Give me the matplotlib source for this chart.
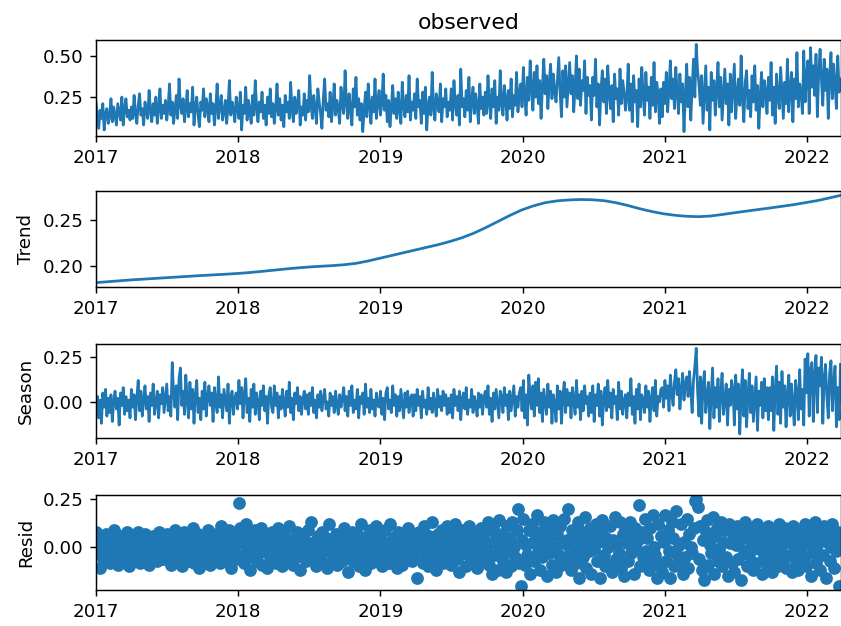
import pandas as pd
import matplotlib
matplotlib.use("Agg")
import matplotlib.pyplot as plt
import matplotlib.dates as mdates
from matplotlib.ticker import FormatStrFormatter

# observations, two per week, one row per quarter
observed = [
    0.22, 0.14, 0.06, 0.17, 0.12, 0.21, 0.05, 0.15, 0.18, 0.09, 0.13, 0.24, 0.10,
    0.19, 0.14, 0.08, 0.21, 0.16, 0.11, 0.25, 0.08, 0.18, 0.24, 0.13, 0.17, 0.11,
    0.19, 0.12, 0.26, 0.15, 0.09, 0.20, 0.27, 0.14, 0.18, 0.08, 0.22, 0.16, 0.12,
    0.29, 0.17, 0.10, 0.21, 0.14, 0.25, 0.09, 0.18, 0.30, 0.12, 0.20, 0.15, 0.23,
    0.11, 0.19, 0.33, 0.14, 0.22, 0.09, 0.17, 0.26, 0.12, 0.36, 0.20, 0.15, 0.24,
    0.10, 0.18, 0.29, 0.13, 0.21, 0.16, 0.31, 0.08, 0.19, 0.25, 0.14, 0.07, 0.22,
    0.17, 0.30, 0.13, 0.24, 0.19, 0.10, 0.27, 0.15, 0.21, 0.08, 0.18, 0.33, 0.12,
    0.20, 0.26, 0.11, 0.16, 0.23, 0.09, 0.19, 0.35, 0.14, 0.22, 0.17, 0.10, 0.25,
    0.18, 0.12, 0.28, 0.05, 0.20, 0.15, 0.31, 0.11, 0.23, 0.17, 0.09, 0.26, 0.14,
    0.35, 0.19, 0.10, 0.22, 0.16, 0.28, 0.12, 0.20, 0.08, 0.25, 0.15, 0.30, 0.13,
    0.21, 0.09, 0.18, 0.33, 0.14, 0.24, 0.11, 0.20, 0.07, 0.26, 0.16, 0.22, 0.12,
    0.34, 0.18, 0.10, 0.25, 0.15, 0.21, 0.29, 0.08, 0.19, 0.14, 0.27, 0.11, 0.23,
    0.16, 0.38, 0.20, 0.12, 0.26, 0.18, 0.09, 0.30, 0.22, 0.15, 0.06, 0.24, 0.36,
    0.17, 0.21, 0.13, 0.28, 0.10, 0.19, 0.33, 0.14, 0.23, 0.18, 0.09, 0.31, 0.20,
    0.15, 0.41, 0.22, 0.12, 0.27, 0.18, 0.08, 0.30, 0.19, 0.37, 0.14, 0.24, 0.11,
    0.21, 0.04, 0.17, 0.28, 0.13, 0.33, 0.20, 0.09, 0.25, 0.16, 0.36, 0.12, 0.22,
    0.29, 0.14, 0.21, 0.39, 0.17, 0.26, 0.10, 0.23, 0.07, 0.19, 0.32, 0.15, 0.24,
    0.12, 0.28, 0.18, 0.09, 0.34, 0.20, 0.13, 0.26, 0.16, 0.38, 0.11, 0.22, 0.17,
    0.27, 0.12, 0.36, 0.19, 0.23, 0.09, 0.28, 0.15, 0.31, 0.05, 0.20, 0.25, 0.14,
    0.40, 0.18, 0.11, 0.27, 0.21, 0.16, 0.33, 0.10, 0.24, 0.19, 0.30, 0.13, 0.22,
    0.17, 0.30, 0.11, 0.35, 0.21, 0.14, 0.26, 0.08, 0.42, 0.19, 0.24, 0.13, 0.29,
    0.17, 0.37, 0.10, 0.22, 0.31, 0.15, 0.27, 0.20, 0.09, 0.33, 0.18, 0.25, 0.14,
    0.28, 0.15, 0.38, 0.22, 0.12, 0.30, 0.19, 0.35, 0.09, 0.25, 0.17, 0.41, 0.21,
    0.14, 0.32, 0.24, 0.11, 0.29, 0.18, 0.36, 0.13, 0.26, 0.20, 0.40, 0.16, 0.27,
    0.33, 0.19, 0.43, 0.26, 0.14, 0.37, 0.23, 0.47, 0.30, 0.17, 0.40, 0.25, 0.44,
    0.21, 0.35, 0.12, 0.31, 0.48, 0.27, 0.38, 0.18, 0.34, 0.45, 0.24, 0.39, 0.29,
    0.22, 0.36, 0.49, 0.28, 0.13, 0.41, 0.25, 0.44, 0.19, 0.33, 0.46, 0.27, 0.38,
    0.16, 0.31, 0.50, 0.24, 0.42, 0.20, 0.35, 0.29, 0.47, 0.15, 0.37, 0.26, 0.32,
    0.11, 0.37, 0.26, 0.48, 0.19, 0.33, 0.08, 0.29, 0.41, 0.22, 0.36, 0.15, 0.44,
    0.27, 0.18, 0.32, 0.10, 0.39, 0.24, 0.30, 0.14, 0.42, 0.21, 0.35, 0.28, 0.17,
    0.24, 0.45, 0.17, 0.33, 0.10, 0.38, 0.22, 0.29, 0.07, 0.36, 0.19, 0.43, 0.26,
    0.14, 0.40, 0.23, 0.31, 0.12, 0.37, 0.20, 0.46, 0.16, 0.34, 0.27, 0.09, 0.30,
    0.13, 0.34, 0.21, 0.40, 0.16, 0.30, 0.47, 0.24, 0.36, 0.18, 0.43, 0.28, 0.15,
    0.39, 0.22, 0.33, 0.04, 0.26, 0.45, 0.19, 0.37, 0.11, 0.31, 0.48, 0.25, 0.57,
    0.41, 0.33, 0.20, 0.38, 0.09, 0.27, 0.44, 0.17, 0.31, 0.05, 0.40, 0.23, 0.35,
    0.14, 0.29, 0.46, 0.19, 0.37, 0.11, 0.26, 0.42, 0.21, 0.33, 0.08, 0.39, 0.16,
    0.30, 0.45, 0.12, 0.27, 0.36, 0.20, 0.50, 0.24, 0.10, 0.34, 0.41, 0.18, 0.29,
    0.13, 0.38, 0.22, 0.44, 0.17, 0.32, 0.06, 0.26, 0.40, 0.19, 0.35, 0.28, 0.15,
    0.37, 0.23, 0.46, 0.14, 0.31, 0.09, 0.39, 0.25, 0.18, 0.43, 0.27, 0.12, 0.34,
    0.21, 0.48, 0.16, 0.30, 0.40, 0.10, 0.36, 0.24, 0.52, 0.19, 0.33, 0.28, 0.15,
    0.53, 0.22, 0.38, 0.47, 0.15, 0.55, 0.31, 0.44, 0.26, 0.51, 0.13, 0.40, 0.54, 0.35,
    0.20, 0.48, 0.29, 0.42, 0.12, 0.37, 0.52, 0.24, 0.45, 0.33, 0.18, 0.50, 0.28, 0.36,
]

# trend, sampled roughly monthly over the same span
trend = [
    0.1820, 0.1830, 0.1840, 0.1850, 0.1858, 0.1866, 0.1874, 0.1882,
    0.1890, 0.1898, 0.1905, 0.1912, 0.1920, 0.1930, 0.1942, 0.1955,
    0.1968, 0.1980, 0.1990, 0.1998, 0.2005, 0.2015, 0.2030, 0.2055,
    0.2085, 0.2115, 0.2145, 0.2175, 0.2205, 0.2235, 0.2270, 0.2310,
    0.2360, 0.2420, 0.2485, 0.2550, 0.2610, 0.2655, 0.2690, 0.2710,
    0.2720, 0.2725, 0.2722, 0.2712, 0.2690, 0.2660, 0.2625, 0.2595,
    0.2570, 0.2553, 0.2542, 0.2538, 0.2545, 0.2562, 0.2580, 0.2598,
    0.2615, 0.2632, 0.2650, 0.2668, 0.2690, 0.2712, 0.2740, 0.2770,
]

# seasonal component, two per week
season = [
    -0.05, 0.03, -0.09, 0.01, -0.12, 0.05, -0.03, 0.07, -0.08, 0.02, -0.06, 0.04, -0.11,
    0.00, 0.06, -0.04, 0.02, -0.13, 0.05, -0.02, 0.08, -0.07, 0.03, -0.05, 0.01, -0.09,
    0.07, -0.03, 0.04, -0.10, 0.02, 0.12, -0.05, 0.06, -0.08, 0.01, 0.09, -0.04, 0.03,
    -0.11, 0.05, -0.02, 0.10, -0.07, 0.00, 0.06, -0.09, 0.04, -0.01, 0.08, -0.06, 0.02,
    0.10, -0.05, 0.03, -0.08, 0.22, 0.05, -0.03, 0.09, -0.10, 0.13, 0.19, -0.02, 0.06,
    -0.07, 0.15, 0.01, -0.09, 0.11, -0.04, 0.07, -0.12, 0.04, 0.12, -0.06, 0.02, -0.10,
    0.06, -0.04, 0.11, -0.08, 0.03, 0.09, -0.02, 0.05, -0.11, 0.08, 0.00, -0.06, 0.14,
    -0.03, 0.04, -0.09, 0.07, 0.01, -0.05, 0.10, -0.12, 0.03, 0.06, -0.07, 0.02, 0.05,
    -0.04, 0.12, -0.01, 0.08, -0.09, 0.04, 0.13, -0.06, 0.02, -0.11, 0.07, -0.03, 0.10,
    -0.07, 0.05, 0.00, -0.10, 0.06, -0.02, 0.09, -0.05, 0.03, -0.12, 0.04, 0.08, -0.03,
    -0.06, 0.09, -0.02, 0.05, -0.09, 0.03, -0.04, 0.07, 0.00, -0.08, 0.06, -0.03, 0.11,
    -0.06, 0.02, -0.10, 0.05, -0.01, 0.08, -0.05, 0.03, -0.07, 0.01, 0.06, -0.04, 0.04,
    -0.07, 0.05, -0.02, 0.08, -0.06, 0.01, -0.09, 0.04, -0.03, 0.06, -0.05, 0.02, 0.07,
    -0.04, 0.00, -0.08, 0.05, -0.02, 0.03, -0.06, 0.06, -0.01, -0.07, 0.04, -0.03, 0.02,
    0.08, -0.05, 0.03, -0.08, 0.06, -0.02, 0.09, -0.06, 0.01, -0.04, 0.07, -0.09, 0.03,
    -0.01, 0.05, -0.07, 0.10, -0.03, 0.02, -0.06, 0.07, -0.04, 0.01, -0.08, 0.05, -0.02,
    -0.03, 0.06, -0.07, 0.02, -0.10, 0.05, 0.08, -0.04, 0.01, -0.06, 0.09, -0.02, 0.04,
    -0.08, 0.03, -0.05, 0.07, -0.01, -0.09, 0.05, -0.03, 0.06, -0.06, 0.02, 0.04, -0.08,
    0.04, -0.05, 0.07, -0.02, 0.03, -0.09, 0.06, -0.03, 0.01, -0.07, 0.08, -0.04, 0.02,
    -0.06, 0.05, -0.01, -0.08, 0.07, -0.03, 0.03, -0.05, 0.06, -0.02, 0.04, -0.07, 0.02,
    -0.06, 0.04, -0.09, 0.07, -0.02, 0.03, -0.05, 0.06, -0.10, 0.02, 0.05, -0.04, 0.08,
    -0.07, 0.01, -0.03, 0.07, -0.06, 0.03, -0.01, -0.08, 0.05, -0.03, 0.04, -0.07, 0.02,
    0.06, -0.03, 0.09, -0.07, 0.02, -0.11, 0.05, -0.04, 0.07, -0.01, -0.09, 0.06, 0.03,
    -0.06, 0.08, -0.02, 0.04, -0.10, 0.06, -0.05, 0.02, 0.09, -0.08, 0.03, -0.03, 0.05,
    0.08, -0.05, 0.12, -0.09, 0.04, -0.13, 0.15, 0.02, -0.04, 0.09, -0.08, 0.11, -0.02,
    0.13, -0.06, 0.05, -0.11, 0.07, 0.00, -0.07, 0.10, -0.03, 0.06, -0.12, 0.04, -0.01,
    -0.11, 0.09, -0.04, 0.06, -0.12, 0.03, 0.11, -0.06, 0.07, -0.02, 0.05, -0.09, 0.08,
    0.01, -0.07, 0.12, -0.03, 0.04, -0.10, 0.06, -0.05, 0.09, -0.01, 0.03, -0.08, 0.05,
    -0.06, 0.09, -0.11, 0.04, -0.02, 0.10, -0.08, 0.06, -0.13, 0.02, 0.08, -0.05, 0.12,
    -0.03, 0.05, -0.09, 0.07, -0.01, 0.03, -0.10, 0.11, -0.04, 0.06, -0.07, 0.01, 0.04,
    -0.09, 0.05, -0.02, 0.13, -0.07, 0.03, -0.12, 0.07, -0.04, 0.10, -0.10, 0.04, 0.01,
    -0.06, 0.09, -0.03, 0.06, -0.11, 0.02, 0.08, -0.05, 0.12, -0.08, 0.03, 0.00, 0.07,
    0.08, -0.03, 0.12, 0.02, 0.09, -0.05, 0.15, 0.05, -0.02, 0.11, 0.18, 0.04, 0.13,
    -0.04, 0.07, 0.16, 0.01, 0.10, 0.14, 0.03, 0.17, 0.06, -0.06, 0.12, 0.20, 0.30,
    0.06, -0.08, 0.14, -0.12, 0.09, 0.17, -0.06, 0.03, 0.11, -0.15, 0.04, 0.19, -0.09,
    0.08, -0.03, 0.13, -0.11, 0.05, 0.16, -0.07, 0.01, 0.10, -0.13, 0.07, -0.02, 0.12,
    0.07, -0.13, 0.15, -0.04, 0.10, -0.18, 0.05, 0.18, -0.08, 0.12, -0.14, 0.03, 0.16,
    -0.06, 0.09, -0.11, 0.02, 0.14, -0.16, 0.06, -0.02, 0.11, -0.09, 0.13, -0.05, 0.08,
    -0.10, 0.08, -0.05, 0.14, -0.16, 0.06, 0.20, -0.07, 0.11, -0.12, 0.17, -0.03, 0.09,
    -0.14, 0.04, 0.15, -0.08, 0.10, -0.01, -0.13, 0.12, 0.05, -0.10, 0.18, -0.04, 0.07,
    -0.13, 0.24, 0.05, 0.27, -0.08, 0.18, 0.22, -0.11, 0.15, 0.26, -0.06, 0.19, 0.09, 0.25,
    -0.12, 0.13, 0.21, 0.03, -0.09, 0.16, 0.23, -0.05, 0.11, 0.20, -0.14, 0.08, -0.10, 0.21,
]

# residuals, two per week
resid = [
    0.08, -0.03, 0.02, -0.11, 0.05, -0.06, 0.00, 0.07, -0.04, 0.03, -0.08, 0.06, -0.01,
    0.09, -0.05, 0.01, -0.09, 0.04, -0.02, 0.06, -0.07, 0.02, -0.04, 0.08, -0.10, 0.03,
    -0.01, 0.06, -0.06, 0.02, -0.03, 0.08, -0.08, 0.04, 0.00, -0.05, 0.07, -0.02, 0.03,
    -0.09, 0.05, -0.01, 0.06, -0.04, 0.01, -0.07, 0.08, -0.03, 0.04, -0.06, 0.02, -0.02,
    0.07, -0.05, 0.01, -0.09, 0.05, -0.02, 0.09, -0.06, 0.03, -0.03, 0.06, -0.10, 0.02,
    0.08, -0.04, 0.00, -0.07, 0.05, -0.01, 0.10, -0.08, 0.03, -0.05, 0.07, -0.11, 0.01,
    -0.03, 0.06, -0.06, 0.03, 0.09, -0.02, -0.09, 0.05, 0.00, -0.05, 0.07, -0.01, 0.04,
    -0.08, 0.11, -0.03, 0.02, -0.07, 0.06, -0.04, 0.09, -0.11, 0.03, -0.01, 0.07, -0.06,
    0.02, 0.23, 0.10, -0.04, 0.05, -0.08, 0.12, -0.02, 0.03, -0.12, 0.07, -0.05, 0.01,
    0.09, -0.07, 0.04, -0.03, 0.10, -0.09, 0.02, -0.01, 0.06, -0.11, 0.04, -0.05, 0.08,
    -0.02, 0.06, -0.08, 0.03, 0.10, -0.04, 0.01, -0.10, 0.07, -0.01, 0.04, -0.06, 0.11,
    -0.03, 0.02, -0.09, 0.05, -0.05, 0.08, 0.00, -0.12, 0.04, -0.02, 0.07, -0.07, 0.02,
    0.09, -0.03, 0.13, -0.06, 0.03, -0.01, -0.10, 0.06, 0.00, -0.04, 0.08, -0.08, 0.02,
    0.05, -0.11, 0.12, -0.02, 0.04, -0.06, 0.01, 0.07, -0.09, 0.03, -0.03, 0.06, -0.07,
    0.10, -0.05, 0.02, -0.13, 0.05, -0.01, 0.08, -0.07, 0.03, -0.03, 0.07, -0.10, 0.01,
    0.12, -0.05, 0.04, -0.12, 0.06, -0.02, 0.09, -0.08, 0.00, 0.05, -0.04, 0.11, -0.06,
    -0.02, 0.07, -0.10, 0.03, 0.09, -0.04, 0.01, -0.08, 0.12, -0.01, 0.05, -0.06, 0.02,
    -0.11, 0.08, -0.03, 0.04, -0.09, 0.07, 0.00, -0.05, 0.10, -0.02, 0.03, -0.07, 0.06,
    -0.04, 0.02, -0.16, 0.08, -0.01, 0.05, -0.08, 0.11, -0.03, 0.01, -0.10, 0.06, -0.02,
    0.13, -0.06, 0.03, -0.12, 0.07, 0.00, -0.04, 0.09, -0.08, 0.04, -0.01, 0.11, -0.05,
    0.02, -0.09, 0.07, -0.02, 0.12, -0.06, 0.04, -0.13, 0.01, 0.09, -0.03, 0.05, -0.10,
    0.00, 0.11, -0.05, 0.03, -0.08, 0.07, -0.01, -0.11, 0.06, -0.04, 0.10, -0.07, 0.02,
    0.08, -0.03, 0.13, -0.09, 0.02, -0.14, 0.10, -0.04, 0.05, -0.12, 0.14, -0.01, 0.07,
    -0.07, 0.03, -0.13, 0.11, -0.02, 0.05, -0.10, 0.13, 0.00, -0.05, 0.09, 0.20, -0.08,
    -0.20, 0.04, 0.15, -0.09, 0.01, -0.04, 0.09, -0.14, 0.12, 0.03, -0.07, 0.06, 0.17,
    -0.02, -0.12, 0.08, -0.05, 0.13, 0.02, -0.15, 0.10, -0.03, 0.05, -0.09, 0.14, 0.00,
    -0.13, 0.07, -0.04, 0.11, -0.09, 0.02, 0.15, -0.06, 0.04, 0.20, -0.01, -0.12, 0.09,
    -0.03, 0.05, -0.08, 0.13, -0.16, 0.01, 0.08, -0.05, 0.16, -0.11, 0.03, -0.02, 0.10,
    -0.14, 0.06, -0.01, 0.12, -0.07, 0.03, -0.16, 0.09, 0.14, -0.04, -0.10, 0.05, 0.00,
    -0.09, 0.11, -0.13, 0.04, 0.16, -0.06, 0.01, -0.03, 0.13, -0.11, 0.07, -0.15, 0.09,
    0.02, -0.07, 0.13, -0.03, 0.06, -0.14, 0.10, -0.01, 0.04, 0.22, -0.10, 0.08, -0.05,
    0.15, -0.02, 0.05, -0.12, 0.10, -0.07, 0.17, 0.00, -0.04, -0.16, 0.12, -0.09, 0.06,
    -0.13, 0.03, 0.17, -0.07, 0.09, -0.02, -0.16, 0.13, 0.05, -0.10, 0.19, -0.04, 0.01,
    -0.08, 0.12, -0.14, 0.03, -0.05, 0.15, -0.11, 0.07, 0.00, -0.03, 0.10, 0.24, 0.25,
    0.21, -0.06, 0.11, -0.12, 0.04, -0.17, 0.08, 0.14, -0.09, 0.01, -0.03, 0.16, -0.14,
    0.06, 0.10, -0.07, -0.01, 0.13, -0.10, 0.03, 0.09, -0.05, -0.15, 0.12, 0.02, -0.08,
    0.07, -0.13, 0.01, 0.11, -0.06, 0.04, -0.17, 0.09, -0.02, 0.13, -0.10, 0.05, -0.04,
    0.00, 0.10, -0.12, 0.06, -0.08, 0.12, -0.01, 0.03, -0.14, 0.08, -0.05, 0.02, -0.09,
    0.11, -0.03, 0.06, -0.13, 0.09, -0.06, 0.01, -0.10, 0.12, -0.02, 0.05, -0.08, 0.10,
    -0.11, 0.03, 0.08, -0.04, -0.13, 0.11, 0.00, -0.07, 0.06, -0.12, 0.09, -0.02, 0.04,
    -0.06, 0.12, -0.10, 0.02, 0.08, -0.15, 0.05, -0.03, 0.13, -0.08, 0.01, 0.10, -0.12, 0.06,
    -0.04, 0.11, -0.16, 0.03, 0.09, -0.07, 0.00, 0.12, -0.11, 0.05, -0.02, 0.08, -0.20, 0.04,
]

start, end = "2017-01-01", "2022-03-27"


def dates_for(values):
    return pd.date_range(start, end, periods=len(values))


fig = plt.figure(figsize=(841 / 131.4, 626 / 131.4), dpi=131.4)
W, H = 841.0, 626.0
left, right = 96, 840.5
# (top, bottom) pixel rows of each panel
rows = [(40, 136), (191, 287), (344, 438.3), (495, 590)]
axes = [fig.add_axes([left / W, 1 - b / H, (right - left) / W, (b - t) / H]) for t, b in rows]
ax_obs, ax_trend, ax_season, ax_resid = axes

ax_obs.plot(dates_for(observed), observed)
ax_obs.set_title("observed")

ax_trend.plot(dates_for(trend), trend)
ax_trend.set_ylabel("Trend")

ax_season.plot(dates_for(season), season)
ax_season.set_ylabel("Season")

ax_resid.plot(dates_for(resid), resid, marker="o", linestyle="none")
ax_resid.set_ylabel("Resid")

for ax in axes:
    ax.set_xlim(pd.Timestamp(start), pd.Timestamp(end))
    ax.xaxis.set_major_locator(mdates.YearLocator())
    ax.xaxis.set_major_formatter(mdates.DateFormatter("%Y"))
    ax.yaxis.set_major_formatter(FormatStrFormatter("%.2f"))

ax_obs.set_yticks([0.25, 0.50])
ax_trend.set_yticks([0.20, 0.25])
ax_season.set_yticks([0.00, 0.25])
ax_resid.set_yticks([0.00, 0.25])

fig.savefig("out.png", dpi=131.4)
